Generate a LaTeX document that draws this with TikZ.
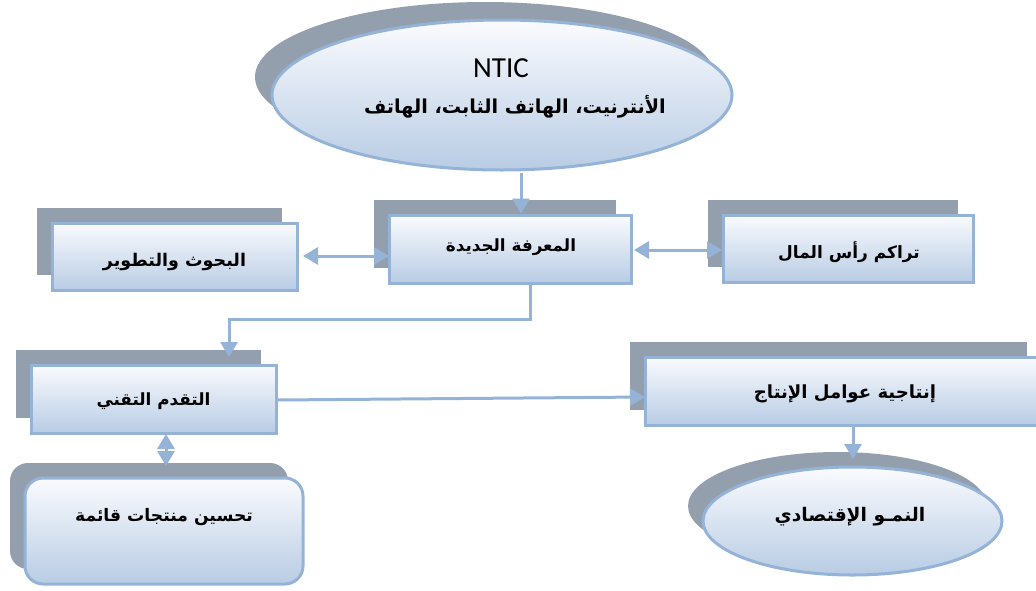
\documentclass[tikz,border=0pt]{standalone}
\usepackage{fontspec}
\usetikzlibrary{arrows.meta,shapes.geometric,shadows}
\setmainfont{Carlito}
\newfontfamily\arabicfont[Script=Arabic]{DejaVu Sans}
\TeXXeTstate=1
\definecolor{shadowc}{HTML}{949FAE}
\definecolor{bordc}{HTML}{95B3D7}
\definecolor{fillb}{HTML}{B8CCE4}
\definecolor{fillt}{HTML}{FAFBFE}
\definecolor{arrc}{HTML}{95B3D7}
\tikzset{
  boxbase/.style={draw=bordc, line width=3pt, top color=fillt, bottom color=fillb,
    inner sep=0pt},
  recbox/.style={boxbase, rectangle,
    general shadow={shadow xshift=-15pt, shadow yshift=15pt, fill=shadowc, draw=none}},
  rrbox/.style={recbox, rounded corners=18pt},
  ellbox/.style={boxbase, ellipse},
  arr/.style={draw=arrc, line width=3pt, -{Triangle[length=15pt,width=17pt]}},
  darr/.style={draw=arrc, line width=3pt, {Triangle[length=15pt,width=17pt]}-{Triangle[length=15pt,width=17pt]}},
  txt/.style={font=\arabicfont\bfseries\fontsize{#1}{21}\selectfont, inner sep=0pt},
  txt/.default=17.5
}
\begin{document}
\begin{tikzpicture}[x=1pt,y=-1pt]
\useasboundingbox (0,0) rectangle (1036,590);
\clip (0,0) rectangle (1036,590);
% top ellipse
\node[ellbox, minimum width=460pt, minimum height=150pt,
  general shadow={shadow xshift=-17pt, shadow yshift=18pt, fill=shadowc, draw=none}] (ntic) at (502,95) {};
\node[font=\fontsize{29}{34}\selectfont, inner sep=0pt] (nticl) at (501,68) {NTIC};
\node[txt=19.2] (nticar) at (515,107) {\beginR الأنترنيت، الهاتف الثابت، الهاتف\endR};
% boxes
\node[recbox, minimum width=242pt, minimum height=68pt] (mk) at (510,249) {};
\node[txt=16.8] at (511,247) {\beginR المعرفة الجديدة\endR};
\node[recbox, minimum width=245pt, minimum height=67pt] (bt) at (174.5,256.5) {};
\node[txt=17.5] at (174.5,262) {\beginR البحوث والتطوير\endR};
\node[recbox, minimum width=250pt, minimum height=67pt] (tr) at (848,248.5) {};
\node[txt=17] at (849,252) {\beginR تراكم رأس المال\endR};
\node[recbox, minimum width=245pt, minimum height=68pt] (tq) at (153.5,399) {};
\node[txt=16.8] at (153.5,401) {\beginR التقدم التقني\endR};
\node[recbox, minimum width=397pt, minimum height=68pt] (in) at (843.5,391) {};
\node[txt=18.1] at (845,394) {\beginR إنتاجية عوامل الإنتاج\endR};
\node[rrbox, minimum width=278pt, minimum height=106pt] (th) at (164,531) {};
\node[txt=17.2] at (164,517) {\beginR تحسين منتجات قائمة\endR};
% bottom ellipse
\node[ellbox, minimum width=299pt, minimum height=108pt,
  general shadow={shadow xshift=-15pt, shadow yshift=15pt, fill=shadowc, draw=none}] (nm) at (852.5,521) {};
\node[txt=18.7] at (850,517) {\beginR النمـو الإقتصادي\endR};
% connectors
\coordinate (a1) at (521,173);
\draw[arr] (a1) -- (a1 |- mk.north);
\coordinate (b1) at (303,256);
\coordinate (b2) at (389,256);
\draw[darr] (b1) -- (b2);
\coordinate (c1) at (634,250);
\coordinate (c2) at (722,250);
\draw[darr] (c1) -- (c2);
\coordinate (d1) at (530,284);
\coordinate (d2) at (530,319);
\coordinate (d3) at (229,319);
\coordinate (d4) at (229,357);
\draw[arr] (d1) -- (d2) -- (d3) -- (d4);
\coordinate (e1) at (277,400);
\coordinate (e2) at (645,397);
\draw[arr] (e1) -- (e2);
\coordinate (f1) at (853,426);
\coordinate (f2) at (853,459);
\draw[arr] (f1) -- (f2);
\coordinate (g1) at (166,434);
\coordinate (g2) at (166,466);
\draw[darr] (g1) -- (g2);
\end{tikzpicture}
\end{document}
